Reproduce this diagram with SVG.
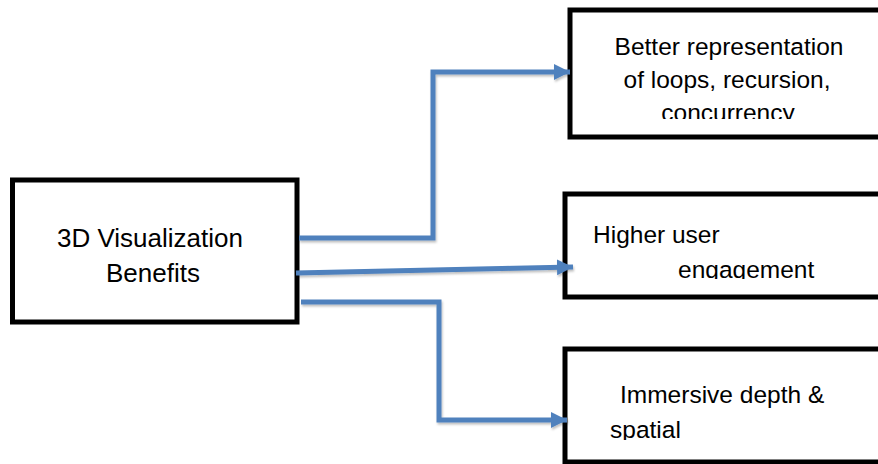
<svg xmlns="http://www.w3.org/2000/svg" width="878" height="464" viewBox="0 0 878 464">
  <style>
    .box { fill: #ffffff; stroke: #000000; stroke-width: 5; }
    .label { font-family: "Liberation Sans", Arial, sans-serif; font-size: 24.5px; fill: #000000; }
    .label-lg { font-size: 26px; }
    .conn { fill: none; stroke: #4F81BD; stroke-width: 5; stroke-linejoin: miter; }
  </style>
  <defs>
    <marker id="arrow" markerUnits="userSpaceOnUse" markerWidth="18" markerHeight="18" refX="16" refY="9" orient="auto">
      <path d="M0,1 L16,9 L0,17 Z" fill="#4F81BD"/>
    </marker>
    <filter id="shadow" x="-5%" y="-20%" width="110%" height="140%">
      <feDropShadow dx="1" dy="2" stdDeviation="1" flood-color="#000000" flood-opacity="0.25"/>
    </filter>
    <clipPath id="clip-loops"><rect x="572" y="12" width="306" height="107"/></clipPath>
    <clipPath id="clip-engage"><rect x="567" y="196" width="311" height="83"/></clipPath>
    <clipPath id="clip-immersive"><rect x="567" y="351" width="311" height="89"/></clipPath>
  </defs>

  <!-- source node -->
  <g id="node-benefits">
    <rect class="box" x="12.5" y="180" width="284.5" height="142"/>
    <text class="label label-lg" x="150" y="247" text-anchor="middle">3D Visualization</text>
    <text class="label label-lg" x="153" y="282" text-anchor="middle">Benefits</text>
  </g>

  <!-- target nodes -->
  <g id="node-loops">
    <rect class="box" x="570" y="10" width="315" height="127"/>
    <g clip-path="url(#clip-loops)">
      <text class="label" x="729" y="55" text-anchor="middle">Better representation</text>
      <text class="label" x="727" y="88" text-anchor="middle">of loops, recursion,</text>
      <text class="label" x="728" y="121" text-anchor="middle">concurrency</text>
    </g>
  </g>

  <g id="node-engagement">
    <rect class="box" x="565" y="194" width="320" height="103"/>
    <g clip-path="url(#clip-engage)">
      <text class="label" x="593" y="243">Higher user</text>
      <text class="label" x="678" y="278">engagement</text>
    </g>
  </g>

  <g id="node-immersive">
    <rect class="box" x="565" y="349" width="320" height="113"/>
    <g clip-path="url(#clip-immersive)">
      <text class="label" x="620" y="403">Immersive depth &amp;</text>
      <text class="label" x="610" y="438">spatial</text>
    </g>
  </g>

  <!-- connectors -->
  <g id="connectors" filter="url(#shadow)">
    <path class="conn" d="M299,238 H433 V72 H570" marker-end="url(#arrow)"/>
    <path class="conn" d="M296,273 L573,267" marker-end="url(#arrow)"/>
    <path class="conn" d="M301,302 H439 V420 H567" marker-end="url(#arrow)"/>
  </g>
</svg>
